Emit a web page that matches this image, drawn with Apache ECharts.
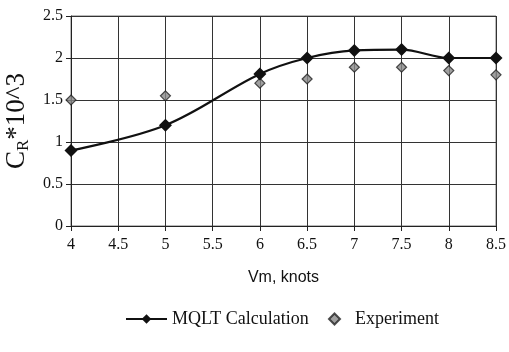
<!DOCTYPE html>
<html><head><meta charset="utf-8">
<script src="https://cdn.jsdelivr.net/npm/echarts@6/dist/echarts.min.js"></script>
<style>html,body{margin:0;padding:0;background:#fff}#c{width:509px;height:352px}</style>
</head><body><div id="c"></div>
<script>
var speeds = [4, 5, 6, 6.5, 7, 7.5, 8, 8.5];
var mqltValues = [0.9, 1.2, 1.81, 2.0, 2.09, 2.1, 2.0, 2.0];
var experimentValues = [1.5, 1.55, 1.7, 1.75, 1.89, 1.89, 1.85, 1.8];
var seriesNames = ['MQLT Calculation', 'Experiment'];

function pairs(xs, ys){ return xs.map(function(x,i){ return [x, ys[i]]; }); }

var chart = echarts.init(document.getElementById('c'), null, {renderer:'canvas'});
var serif = '"Liberation Serif", "DejaVu Serif", serif';
var legendText = {fontFamily: serif, fontSize: 18, color: '#111', letterSpacing: -0.6};
chart.setOption({
  animation: false,
  backgroundColor: '#fff',
  grid: {left: 71, right: 13, top: 16, bottom: 126, containLabel: false, outerBoundsMode: 'none', show: true, borderColor: '#777', borderWidth: 1},
  legend: [
    {data: [seriesNames[0]], top: 305, left: 120, itemWidth: 41, itemHeight: 12,
     textStyle: legendText},
    {data: [seriesNames[1]], top: 305, left: 323, itemWidth: 11, itemHeight: 11,
     textStyle: Object.assign({padding: [0,0,0,10]}, legendText)}
  ],
  xAxis: {
    type: 'value', min: 4, max: 8.5, interval: 0.5,
    name: 'Vm, knots', nameLocation: 'middle', nameGap: 44,
    nameTextStyle: {fontFamily: '"Liberation Sans Narrow", "Liberation Sans", sans-serif', fontSize: 16, color: '#111', letterSpacing: -1},
    axisLine: {lineStyle: {color: '#222', width: 1}},
    axisTick: {show: true, length: 5, lineStyle: {color: '#222'}},
    axisLabel: {fontFamily: serif, fontSize: 16, color: '#111', margin: 11, formatter: function(v){ return String(v); }},
    splitLine: {show: true, lineStyle: {color: '#333', width: 1}}
  },
  yAxis: {
    type: 'value', min: 0, max: 2.5, interval: 0.5,
    name: '{a|C}{b|R}{a|*10^3}', nameLocation: 'middle', nameGap: 36,
    nameTextStyle: {rich: {
      a: {fontFamily: serif, fontSize: 27, color: '#111'},
      b: {fontFamily: serif, fontSize: 17, color: '#111', verticalAlign: 'bottom', padding: [13,0,0,0]}
    }},
    axisLine: {show: true, lineStyle: {color: '#222', width: 1}},
    axisTick: {show: true, length: 5, lineStyle: {color: '#222'}},
    axisLabel: {fontFamily: serif, fontSize: 16, color: '#111', margin: 8, formatter: function(v){ return String(v); }},
    splitLine: {show: true, lineStyle: {color: '#333', width: 1}}
  },
  series: [
    {
      name: seriesNames[0], type: 'line', data: pairs(speeds, mqltValues), smooth: 0.35,
      symbol: 'diamond', symbolSize: 13,
      lineStyle: {color: '#111', width: 2.2},
      itemStyle: {color: '#111'}, z: 3
    },
    {
      name: seriesNames[1], type: 'scatter', data: pairs(speeds, experimentValues),
      symbol: 'diamond', symbolSize: 10,
      itemStyle: {color: '#888', borderColor: '#222', borderWidth: 1.2}, z: 2
    }
  ]
});
</script></body></html>
